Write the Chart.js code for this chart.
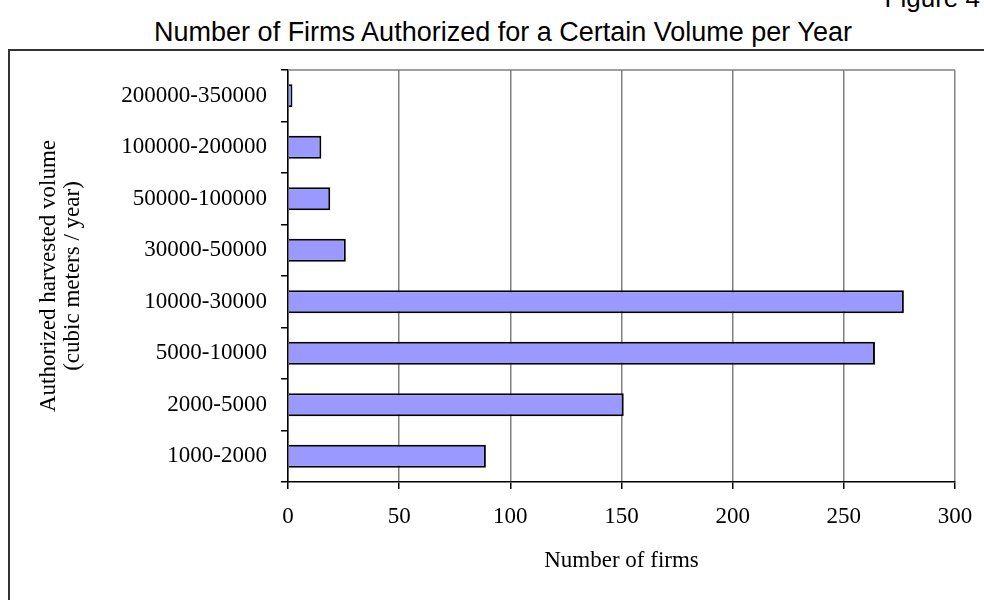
<!DOCTYPE html>
<html>
<head>
<meta charset="utf-8">
<script src="https://cdn.jsdelivr.net/npm/chart.js@4/dist/chart.umd.min.js"></script>
<style>
  body { margin: 0; background: #fff; }
  #wrap { position: relative; width: 984px; height: 600px; overflow: hidden; background: #fff; }
  #frame { position: absolute; left: 8px; top: 49px; width: 1100px; height: 700px; border: 2px solid #333; box-sizing: border-box; }
  #title { position: absolute; left: 0; width: 1006px; top: 17px; line-height: 30px; text-align: center; font-size: 27px; font-family: "Liberation Sans", Arial, sans-serif; color: #000; }
  #fig { position: absolute; right: 4px; top: -17px; line-height: 30px; font-size: 26px; font-family: "Liberation Sans", Arial, sans-serif; color: #000; }
  canvas { position: absolute; left: 0; top: 0; }
</style>
</head>
<body>
<div id="wrap">
  <div id="fig">Figure 4</div>
  <div id="title">Number of Firms Authorized for a Certain Volume per Year</div>
  <div id="frame"></div>
  <canvas id="firmsChart" width="984" height="600"></canvas>
</div>
<script>
// Veriler
const categories = ['1000-2000', '2000-5000', '5000-10000', '10000-30000', '30000-50000', '50000-100000', '100000-200000', '200000-350000'];
const firmCounts = [89, 151, 264, 277, 26, 19, 15, 2];
const xTicks = [0, 50, 100, 150, 200, 250, 300];

const serif = '"Liberation Serif", "Times New Roman", serif';

// Çizim alanının üst çerçevesi
const plotBorder = {
    id: 'plotBorder',
    beforeDatasetsDraw(chart) {
        const a = chart.chartArea;
        const ctx = chart.ctx;
        ctx.save();
        ctx.strokeStyle = '#808080';
        ctx.lineWidth = 1.5;
        ctx.beginPath();
        ctx.moveTo(a.left, a.top);
        ctx.lineTo(a.right, a.top);
        ctx.stroke();
        ctx.restore();
    }
};

document.addEventListener('DOMContentLoaded', function() {
    const ctx = document.getElementById('firmsChart').getContext('2d');
    new Chart(ctx, {
        type: 'bar',
        data: {
            labels: categories,
            datasets: [{
                data: firmCounts,
                backgroundColor: '#9999FF',
                borderColor: '#000',
                borderWidth: 2,
                barPercentage: 0.45,
                categoryPercentage: 1.0
            }]
        },
        options: {
            indexAxis: 'y',
            responsive: false,
            animation: false,
            layout: { padding: { top: 70, right: 29, left: 0, bottom: 0 } },
            plugins: {
                legend: { display: false },
                tooltip: { enabled: false }
            },
            scales: {
                x: {
                    min: 0,
                    max: 300,
                    afterFit: function(s) {
                        s.height = 118;
                        s.paddingRight = 0;
                        s.paddingLeft = 0;
                    },
                    afterBuildTicks: function(s) { s.ticks = xTicks.map(v => ({ value: v })); },
                    grid: { color: '#808080', lineWidth: 1.5, tickColor: '#000', tickLength: 7 },
                    border: { display: true, color: '#000', width: 1.5 },
                    ticks: { color: '#000', font: { family: serif, size: 23 }, padding: 14 },
                    title: {
                        display: true,
                        text: 'Number of firms',
                        color: '#000',
                        font: { family: serif, size: 23 },
                        padding: { top: 0, bottom: 25 }
                    }
                },
                y: {
                    reverse: true,
                    afterFit: function(s) { s.width = 288; },
                    grid: { display: true, drawOnChartArea: false, offset: true, tickColor: '#000', tickLength: 7, lineWidth: 1.5 },
                    border: { display: true, color: '#000', width: 1.5 },
                    ticks: { color: '#000', font: { family: serif, size: 23 }, padding: 14 },
                    title: {
                        display: true,
                        text: ['Authorized harvested volume', '(cubic meters / year)'],
                        color: '#000',
                        font: { family: serif, size: 23, lineHeight: 1.05 },
                        padding: { top: 37, bottom: 0 }
                    }
                }
            }
        },
        plugins: [plotBorder]
    });
});
</script>
</body>
</html>
